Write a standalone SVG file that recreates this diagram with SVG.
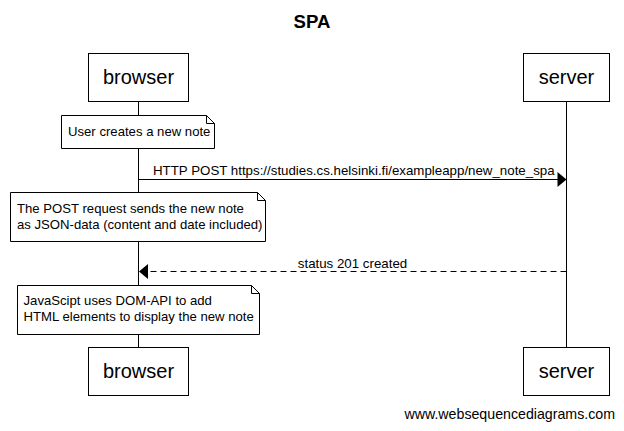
<svg xmlns="http://www.w3.org/2000/svg" width="624" height="431" viewBox="0 0 624 431">
<style>
text{font-family:"Liberation Sans",Arial,sans-serif;fill:#000}
.box{fill:#fff;stroke:#000;stroke-width:1}
.life{stroke:#000;stroke-width:1}
.pt{font-size:20px;text-anchor:middle}
.note{fill:#fff;stroke:#000;stroke-width:1}
.nt{font-size:13.15px}
.msg{font-size:13.3px}
.line{stroke:#000;stroke-width:1;fill:none}
.dash{stroke-dasharray:6,4}
</style>
<rect width="624" height="431" fill="#fff"/>
<text x="312" y="28" font-size="18.6" font-weight="bold" text-anchor="middle">SPA</text>
<g id="lifelines">
<line class="life" x1="138.5" y1="101.5" x2="138.5" y2="347.5"/>
<line class="life" x1="566.5" y1="101.5" x2="566.5" y2="347.5"/>
</g>
<g id="browser-top"><rect class="box" x="88.5" y="53.5" width="100" height="48"/><text class="pt" x="138.5" y="84">browser</text></g>
<g id="server-top"><rect class="box" x="523.5" y="53.5" width="86" height="48"/><text class="pt" x="566.5" y="84">server</text></g>
<g id="browser-bottom"><rect class="box" x="88.5" y="347.5" width="100" height="48"/><text class="pt" x="138.5" y="378">browser</text></g>
<g id="server-bottom"><rect class="box" x="523.5" y="347.5" width="86" height="48"/><text class="pt" x="566.5" y="378">server</text></g>
<g id="note1">
<path class="note" d="M61.5 115.5H206.5L214.5 123.5V148.5H61.5Z"/>
<path class="line" d="M206.5 115.5V123.5H214.5"/>
<text class="nt" x="68" y="136">User creates a new note</text>
</g>
<g id="note2">
<path class="note" d="M10.5 192.5H257.5L265.5 200.5V241.5H10.5Z"/>
<path class="line" d="M257.5 192.5V200.5H265.5"/>
<text class="nt" x="17" y="213">The POST request sends the new note</text>
<text class="nt" x="17" y="229">as JSON-data (content and date included)</text>
</g>
<g id="note3">
<path class="note" d="M17.5 285.5H251.5L259.5 293.5V334.5H17.5Z"/>
<path class="line" d="M251.5 285.5V293.5H259.5"/>
<text class="nt" x="23.5" y="305">JavaScipt uses DOM-API to add</text>
<text class="nt" x="23.5" y="321">HTML elements to display the new note</text>
</g>
<g id="connectors">
<line class="line" x1="138.5" y1="179.5" x2="558" y2="179.5"/>
<polygon points="566.5,179.5 557.5,172 557.5,187" fill="#000"/>
<text class="msg" x="153" y="175">HTTP POST https://studies.cs.helsinki.fi/exampleapp/new_note_spa</text>
<line class="line dash" x1="566.5" y1="271.5" x2="147" y2="271.5"/>
<polygon points="139,271.5 148,264 148,279" fill="#000"/>
<text class="msg" x="352.5" y="268" text-anchor="middle">status 201 created</text>
</g>
<text x="615" y="419" font-size="14.2" text-anchor="end">www.websequencediagrams.com</text>
</svg>
